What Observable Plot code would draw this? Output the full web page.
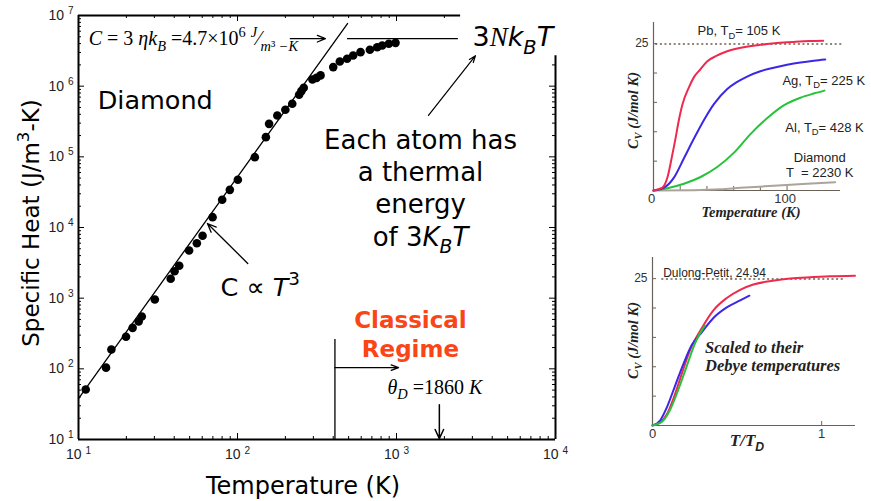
<!DOCTYPE html>
<html><head><meta charset="utf-8">
<script src="https://cdn.jsdelivr.net/npm/d3@7"></script>
<script src="https://cdn.jsdelivr.net/npm/@observablehq/plot@0.6"></script>
<style>
html,body{margin:0;padding:0;background:#fff;}
#wrap{position:relative;width:871px;height:501px;overflow:hidden;background:#fff;}
#wrap svg{position:absolute;overflow:visible;}
</style></head><body><div id="wrap"></div>
<script>
// ---------------- Main chart data (diamond, log-log) ----------------
const diamondT = [11.1,14.9,16.1,19.9,21.9,23.9,25.0,30.2,38.0,40.2,43.0,49.6,55.5,60.3,69.7,80.1,89.5,100.5,128.5,150.8,158,178,200,221,244,252,261,296,314,333,400,440,489,534,594,680,756,813,895,986];
const diamondC = [51,104,188,284,380,468,550,957,1880,2400,2880,4730,6000,7630,14000,24700,34100,47300,98900,190000,293000,385000,463000,563000,755000,850000,948000,1.24e6,1.31e6,1.42e6,1.86e6,2.23e6,2.44e6,2.72e6,3.03e6,3.27e6,3.56e6,3.76e6,3.98e6,4.1e6];
const fitT = [10, 492];
const fitC = [38, 7.7e6];
const classicalT = [492, 2450];
const classicalC = 4.7e6;
const majorX = [10, 100, 1000, 10000];
const majorY = [10, 100, 1e3, 1e4, 1e5, 1e6, 1e7];
const topBorderEnd = 2530;     // top frame stops here (T)
const rightBorderEnd = 2.7e6;  // right frame stops here (C)

// annotations (data coordinates)
const eqArrow = [{x1: 215, y1: 4.7e6, x2: 357, y2: 4.7e6}];
const t3Arrow = [{x1: 116, y1: 3100, x2: 64.7, y2: 11400}];
const nkArrow = [{x1: 1589, y1: 3.85e5, x2: 3140, y2: 2.7e6}];
const regimeLine = [{x: 410, y1: 10, y2: 260}];
const regimeArrow = [{x1: 410, y1: 104, x2: 1030, y2: 104}];
const debyeArrow = [{x1: 1860, y1: 31, x2: 1860, y2: 10.3}];

// ---------------- Top-right chart data (Cv vs T) ----------------
const pbT = [0,6.7,10.4,14.1,16.6,18.5,21.6,26.6,30.3,35,40.3,47,55.2,67.6,80,92.5,105,117,127];
const pbC = [0,0.5,2.2,6.1,9.0,11.4,14.6,17.6,19.3,20.6,22.0,22.9,23.7,24.4,24.8,25.1,25.3,25.45,25.5];
const agT = [0,7.9,15.3,22.8,30.2,37.8,45.2,55.2,62,70.1,80,90,100,110,120,128.6];
const agC = [0,0.5,2.2,5.5,8.8,12,14.7,17.3,18.4,19.4,20.3,20.9,21.4,21.8,22.1,22.3];
const alT = [0,10.4,22.8,35.3,47.7,60.1,72.6,85,97.5,110,120,128];
const alC = [0,0.4,1.15,2.3,4.0,6.4,9.6,12.3,14.5,15.8,16.5,17.0];
const diaT = [0,30,50,65,90,115,136];
const diaC = [0,0.05,0.2,0.45,0.8,1.14,1.42];
const dulongPetit = 24.94;

// ---------------- Bottom-right chart data (scaled T/TD) ----------------
const pbS = [0,0.045,0.085,0.124,0.173,0.223,0.292,0.36,0.439,0.518,0.596,0.7,0.8,0.911,1.05,1.197];
const pbSC = [0,0.5,1.9,4.6,8.8,12.9,16.6,19.6,21.7,23.1,24.0,24.6,25.0,25.2,25.4,25.5];
const agS = [0,0.045,0.085,0.134,0.183,0.232,0.292,0.36,0.439,0.518,0.573];
const agSC = [0,0.85,3.1,6.8,10.5,13.7,15.9,18.3,20.1,21.3,22.1];
const alS = [0,0.053,0.102,0.151,0.2,0.25,0.309];
const alSC = [0,0.57,2.56,5.97,9.9,13.9,17.0];

// ---------------- helpers ----------------
const zip = (xs, ys) => xs.map((x, i) => ({x, y: Array.isArray(ys) ? ys[i] : ys}));
function minorTicks(lo, hi) { const o = []; for (let e = lo; e < hi; e++) for (let m = 2; m <= 9; m++) o.push(m * 10 ** e); return o; }
const minorX = minorTicks(1, 4), minorY = minorTicks(1, 7);

const SANS = "'DejaVu Sans', Verdana, sans-serif";
const ARIAL = "'Liberation Sans', Arial, Helvetica, sans-serif";
const SERIF = "'Liberation Serif', 'Times New Roman', serif";

// rich text: *italic*, _{sub}, ^{sup}, ~serif toggle~, #sans toggle#
function parse(s) {
  const segs = []; let italic = false, mode = 0, fam = null, buf = "";
  const push = () => { if (buf) segs.push({t: buf, italic, mode, fam}); buf = ""; };
  for (let i = 0; i < s.length; i++) {
    const ch = s[i];
    if (ch === "*") { push(); italic = !italic; }
    else if (ch === "~") { push(); fam = fam === SERIF ? null : SERIF; }
    else if (ch === "#") { push(); fam = fam === ARIAL ? null : ARIAL; }
    else if ((ch === "_" || ch === "^") && s[i + 1] === "{") { push(); mode = ch === "_" ? -1 : 1; i++; }
    else if (ch === "}" && mode !== 0) { push(); mode = 0; }
    else buf += ch;
  }
  push(); return segs;
}
function rich(svg) {
  svg.querySelectorAll("text, tspan").forEach(el => {
    if (el.children.length) return;
    const s = el.textContent;
    if (!/[_^*~#]/.test(s)) return;
    const base = parseFloat(getComputedStyle(el).fontSize) || 12;
    const segs = parse(s);
    el.textContent = "";
    let cur = 0;
    for (const g of segs) {
      const ts = document.createElementNS("http://www.w3.org/2000/svg", "tspan");
      const target = g.mode === -1 ? 0.28 * base : g.mode === 1 ? -0.42 * base : 0;
      if (target !== cur) ts.setAttribute("dy", target - cur);
      cur = target;
      if (g.mode !== 0) ts.setAttribute("font-size", 0.72 * base);
      if (g.italic) ts.setAttribute("font-style", "italic");
      if (g.fam) ts.setAttribute("font-family", g.fam);
      ts.textContent = g.t;
      el.appendChild(ts);
    }
  });
}
function place(svg, left, top) {
  svg.style.left = left + "px"; svg.style.top = top + "px";
  document.getElementById("wrap").appendChild(svg);
  rich(svg);
}

// ---------------- Main chart ----------------
const MW = 600, MH = 501, mL = 78, mR = 45, mT = 15, mB = 62;
const FW = MW - mL - mR, FH = MH - mT - mB;
const main = Plot.plot({
  width: MW, height: MH, marginLeft: mL, marginRight: mR, marginTop: mT, marginBottom: mB,
  x: {type: "log", domain: [10, 1e4], label: null},
  y: {type: "log", domain: [10, 1e7], label: null},
  style: {fontFamily: ARIAL, fontSize: "13px", color: "#000", background: "transparent", overflow: "visible"},
  marks: [
    Plot.axisX(majorX, {tickSize: 0, tickPadding: 10, tickFormat: d => `10 ^{${Math.round(Math.log10(d))}}`, fontSize: 14, fill: "#222", label: null}),
    Plot.axisY(majorY, {tickSize: 0, tickPadding: 5, tickFormat: d => `10 ^{${Math.round(Math.log10(d))}}`, fontSize: 14, fill: "#222", label: null}),
    // inward ticks
    Plot.tickX(majorX, {x: d => d, insetTop: FH - 6}),
    Plot.tickX(minorX, {x: d => d, insetTop: FH - 3}),
    Plot.tickX(majorX.filter(d => d < topBorderEnd), {x: d => d, insetBottom: FH - 6}),
    Plot.tickX(minorX.filter(d => d < topBorderEnd), {x: d => d, insetBottom: FH - 3}),
    Plot.tickY(majorY, {y: d => d, insetRight: FW - 6}),
    Plot.tickY(minorY, {y: d => d, insetRight: FW - 3}),
    Plot.tickY(majorY.filter(d => d < rightBorderEnd), {y: d => d, insetLeft: FW - 6}),
    Plot.tickY(minorY.filter(d => d < rightBorderEnd), {y: d => d, insetLeft: FW - 3}),
    // frame
    Plot.ruleX([10], {strokeWidth: 2}),
    Plot.ruleY([10], {strokeWidth: 2}),
    Plot.ruleY([1e7], {x1: 10, x2: topBorderEnd, strokeWidth: 2}),
    Plot.ruleX([1e4], {y1: 10, y2: rightBorderEnd, strokeWidth: 2}),
    // lines
    Plot.line(zip(fitT, fitC), {x: "x", y: "y", strokeWidth: 1.3}),
    Plot.ruleY([classicalC], {x1: classicalT[0], x2: classicalT[1], strokeWidth: 1.3}),
    Plot.ruleX(regimeLine, {x: "x", y1: "y1", y2: "y2", strokeWidth: 1.3}),
    // arrows
    Plot.arrow(eqArrow, {x1: "x1", y1: "y1", x2: "x2", y2: "y2", strokeWidth: 1.3, headLength: 10, headAngle: 45}),
    Plot.arrow(t3Arrow, {x1: "x1", y1: "y1", x2: "x2", y2: "y2", strokeWidth: 1.3, headLength: 11, headAngle: 45}),
    Plot.arrow(nkArrow, {x1: "x1", y1: "y1", x2: "x2", y2: "y2", strokeWidth: 1.2, headLength: 9, headAngle: 40}),
    Plot.arrow(regimeArrow, {x1: "x1", y1: "y1", x2: "x2", y2: "y2", strokeWidth: 1.3, headLength: 9, headAngle: 40}),
    Plot.arrow(debyeArrow, {x1: "x1", y1: "y1", x2: "x2", y2: "y2", strokeWidth: 1.5, headLength: 10, headAngle: 50}),
    // data
    Plot.dot(zip(diamondT, diamondC), {x: "x", y: "y", r: 4.3, fill: "#000"}),
    // texts
    Plot.text(["~*C* = 3 *ηk*_{*B*} =4.7×10^{6} ^{*J*}⁄_{*m*³ *−K*}~"], {x: 11.6, y: 4.7e6, text: d => d, textAnchor: "start", fontFamily: SERIF, fontSize: 20}),
    Plot.text(["Diamond"], {x: 13.2, y: 6.27e5, text: d => d, textAnchor: "start", fontFamily: SANS, fontSize: 25.5}),
    Plot.text(["3~*N*~*k*_{*B*}*T*"], {x: 3006, y: 4.88e6, text: d => d, textAnchor: "start", fontFamily: SANS, fontSize: 27}),
    Plot.text(["Each atom has\na thermal\nenergy\nof 3*K*_{*B*}*T*"], {x: 1416, y: 37400, text: d => d, fontFamily: SANS, fontSize: 26, lineHeight: 1.24}),
    Plot.text(["C ∝ *T*^{3}"], {x: 78.2, y: 1416, text: d => d, textAnchor: "start", fontFamily: SANS, fontSize: 25.5}),
    Plot.text(["Classical\nRegime"], {x: 1224, y: 316, text: d => d, fontFamily: SANS, fontSize: 23, fontWeight: "bold", fill: "#fa4616", lineHeight: 1.22}),
    Plot.text(["*θ*_{*D*} =1860 *K*"], {x: 877, y: 54.5, text: d => d, textAnchor: "start", fontFamily: SERIF, fontSize: 20}),
    Plot.text(["Specific Heat (J/m^{3}-K)"], {frameAnchor: "left", textAnchor: "middle", lineAnchor: "middle", dx: -47, dy: -4.5, rotate: -90, text: d => d, fontFamily: SANS, fontSize: 23}),
    Plot.text(["Temperature (K)"], {frameAnchor: "bottom", textAnchor: "middle", lineAnchor: "middle", dx: -14, dy: 47, text: d => d, fontFamily: SANS, fontSize: 24})
  ]
});
place(main, 0, 0);

// ---------------- Top-right chart ----------------
const AX = "#6a6258";
const RED = "#ee2a4e", BLUE = "#3b27e6", GREEN = "#27c23c", GRAY = "#aba49b";
const TW = 271, TH = 240, tL = 53, tR = 31, tT = 22, tB = 50;
const top1 = Plot.plot({
  width: TW, height: TH, marginLeft: tL, marginRight: tR, marginTop: tT, marginBottom: tB,
  x: {domain: [0, 140], label: null},
  y: {domain: [0, 28.6], label: null},
  style: {fontFamily: ARIAL, fontSize: "12px", color: "#222", background: "transparent", overflow: "visible"},
  marks: [
    Plot.axisY([25], {tickSize: 0, tickPadding: 5, tickFormat: d => String(d), fontSize: 12, fill: "#333", label: null}),
    Plot.axisX([0, 100], {tickSize: 0, tickPadding: 3, tickFormat: d => String(d), dx: -2, fontSize: 13, fill: "#333", label: null}),
    Plot.tickY([5, 10, 15, 20, 25], {y: d => d, insetRight: TW - tL - tR - 4, stroke: AX}),
    Plot.tickX([20, 40, 60, 80, 100], {x: d => d, insetTop: TH - tT - tB - 4, stroke: AX}),
    Plot.ruleX([0], {stroke: AX, strokeWidth: 1.2}),
    Plot.ruleY([0], {stroke: AX, strokeWidth: 1.2}),
    Plot.ruleY([dulongPetit], {x1: 1.7, x2: 142, stroke: "#6b5c4c", strokeWidth: 1.4, strokeDasharray: "2,2.6"}),
    Plot.line(zip(diaT, diaC), {x: "x", y: "y", stroke: GRAY, strokeWidth: 2, curve: "monotone-x"}),
    Plot.line(zip(alT, alC), {x: "x", y: "y", stroke: GREEN, strokeWidth: 2, curve: "monotone-x"}),
    Plot.line(zip(agT, agC), {x: "x", y: "y", stroke: BLUE, strokeWidth: 2, curve: "monotone-x"}),
    Plot.line(zip(pbT, pbC), {x: "x", y: "y", stroke: RED, strokeWidth: 2, curve: "monotone-x"}),
    Plot.text(["Pb, T_{D}= 105 K"], {x: 33, y: 27.1, text: d => d, textAnchor: "start", fontSize: 13}),
    Plot.text(["Ag, T_{D}= 225 K"], {x: 96.5, y: 18.7, text: d => d, textAnchor: "start", fontSize: 13}),
    Plot.text(["Al, T_{D}= 428 K"], {x: 98.7, y: 10.7, text: d => d, textAnchor: "start", fontSize: 13}),
    Plot.text(["Diamond\nT  = 2230 K"], {x: 124.5, y: 4.35, text: d => d, fontSize: 13, lineHeight: 1.15}),
    Plot.text(["*C*_{V} (*J/mol K*)"], {frameAnchor: "left", textAnchor: "middle", lineAnchor: "middle", dx: -20, dy: 4, rotate: -90, text: d => d, fontFamily: SERIF, fontWeight: "bold", fontStyle: "italic", fontSize: 14.5}),
    Plot.text(["Temperature (K)"], {frameAnchor: "bottom", textAnchor: "middle", lineAnchor: "middle", dx: 4, dy: 22, text: d => d, fontFamily: SERIF, fontWeight: "bold", fontStyle: "italic", fontSize: 14.5})
  ]
});
place(top1, 600, 0);

// ---------------- Bottom-right chart ----------------
const BW = 271, BH = 261, bL = 52, bR = 16, bT = 17, bB = 76;
const bot = Plot.plot({
  width: BW, height: BH, marginLeft: bL, marginRight: bR, marginTop: bT, marginBottom: bB,
  x: {domain: [0, 1.2], label: null},
  y: {domain: [0, 28.6], label: null},
  style: {fontFamily: ARIAL, fontSize: "12px", color: "#222", background: "transparent", overflow: "visible"},
  marks: [
    Plot.axisY([25], {tickSize: 0, tickPadding: 5, tickFormat: d => String(d), fontSize: 12, fill: "#333", label: null}),
    Plot.axisX([0, 1], {tickSize: 0, tickPadding: 3, tickFormat: d => String(d), fontSize: 13, fill: "#333", label: null}),
    Plot.tickY([5, 10, 15, 20, 25], {y: d => d, insetRight: BW - bL - bR - 4, stroke: AX}),
    Plot.tickX([1], {x: d => d, insetTop: BH - bT - bB - 4, stroke: AX}),
    Plot.ruleX([0], {stroke: AX, strokeWidth: 1.2}),
    Plot.ruleY([0], {stroke: AX, strokeWidth: 1.2}),
    Plot.ruleY([dulongPetit], {x1: 0.055, x2: 1.137, stroke: "#6b5c4c", strokeWidth: 1.4, strokeDasharray: "2,2.6"}),
    Plot.line(zip(pbS, pbSC), {x: "x", y: "y", stroke: RED, strokeWidth: 2, curve: "monotone-x"}),
    Plot.line(zip(agS, agSC), {x: "x", y: "y", stroke: BLUE, strokeWidth: 2, curve: "monotone-x"}),
    Plot.line(zip(alS, alSC), {x: "x", y: "y", stroke: GREEN, strokeWidth: 2, curve: "monotone-x"}),
    Plot.text(["Dulong-Petit, 24.94"], {x: 0.063, y: 25.9, text: d => d, textAnchor: "start", fontSize: 12}),
    Plot.text(["Scaled to their\nDebye temperatures"], {x: 0.311, y: 11.85, text: d => d, textAnchor: "start", fontFamily: SERIF, fontWeight: "bold", fontStyle: "italic", fontSize: 16.5, lineHeight: 1.08}),
    Plot.text(["*C*_{V} (*J/mol K*)"], {frameAnchor: "left", textAnchor: "middle", lineAnchor: "middle", dx: -19, dy: -1, rotate: -90, text: d => d, fontFamily: SERIF, fontWeight: "bold", fontStyle: "italic", fontSize: 14.5}),
    Plot.text(["T/T_{#D#}"], {frameAnchor: "bottom", textAnchor: "middle", lineAnchor: "middle", dx: -7, dy: 15, text: d => d, fontFamily: SERIF, fontWeight: "bold", fontStyle: "italic", fontSize: 17})
  ]
});
place(bot, 600, 240);
</script></body></html>
